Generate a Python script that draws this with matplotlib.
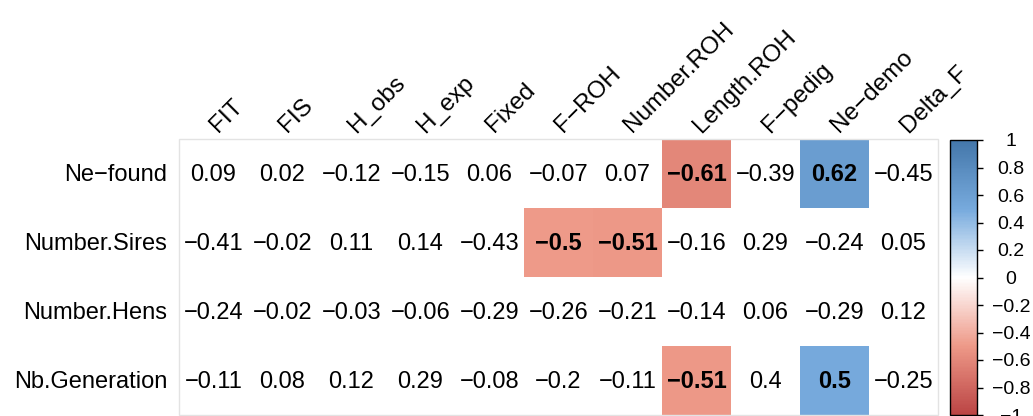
import matplotlib
matplotlib.use("Agg")
import matplotlib.pyplot as plt
from matplotlib.colors import LinearSegmentedColormap, Normalize
from matplotlib.patches import Rectangle
import matplotlib.cm as cm

plt.rcParams['font.family'] = ['Liberation Sans', 'DejaVu Sans']

row_labels = ["Ne\u2212found", "Number.Sires", "Number.Hens", "Nb.Generation"]
col_labels = ["FIT", "FIS", "H_obs", "H_exp", "Fixed", "F\u2212ROH", "Number.ROH",
              "Length.ROH", "F\u2212pedig", "Ne\u2212demo", "Delta_F"]

ne_found      = [0.09, 0.02, -0.12, -0.15, 0.06, -0.07, 0.07, -0.61, -0.39, 0.62, -0.45]
number_sires  = [-0.41, -0.02, 0.11, 0.14, -0.43, -0.5, -0.51, -0.16, 0.29, -0.24, 0.05]
number_hens   = [-0.24, -0.02, -0.03, -0.06, -0.29, -0.26, -0.21, -0.14, 0.06, -0.29, 0.12]
nb_generation = [-0.11, 0.08, 0.12, 0.29, -0.08, -0.2, -0.11, -0.51, 0.4, 0.5, -0.25]
matrix = [ne_found, number_sires, number_hens, nb_generation]

sig_threshold = 0.5
palette = ["#BB4444", "#EE9988", "#FFFFFF", "#77AADD", "#4477AA"]
cbar_ticks = [1, 0.8, 0.6, 0.4, 0.2, 0, -0.2, -0.4, -0.6, -0.8, -1]

W, H = 1033, 416
fig = plt.figure(figsize=(W / 100, H / 100), dpi=100)
cmap = LinearSegmentedColormap.from_list("corr", palette, N=200)
norm = Normalize(-1, 1)

# main grid axes (pixel geometry)
gx0, gy0, cell = 179, 139, 69
nr, nc = len(row_labels), len(col_labels)
ax = fig.add_axes([gx0 / W, 1 - (gy0 + nr * cell) / H, nc * cell / W, nr * cell / H])
ax.set_xlim(0, nc)
ax.set_ylim(nr, 0)
ax.axis("off")

def fmt(v):
    s = "{:g}".format(round(v, 2))
    return s.replace("-", "\u2212")

for i, row in enumerate(matrix):
    for j, v in enumerate(row):
        sig = abs(v) >= sig_threshold
        if sig:
            ax.add_patch(Rectangle((j, i), 1, 1, facecolor=cmap(norm(v)), edgecolor="none"))
        ax.text(j + 0.5, i + 0.52, fmt(v), ha="center", va="center", fontsize=17,
                fontweight="bold" if sig else "normal", color="black")

ax.add_patch(Rectangle((0, 0), nc, nr, facecolor="none", edgecolor="#E3E3E3", lw=1, clip_on=False))

# row labels
for i, lab in enumerate(row_labels):
    ax.text(-0.17, i + 0.52, lab, ha="right", va="center", fontsize=17)

# column labels
for j, lab in enumerate(col_labels):
    ax.text(j + 0.57, -0.08, lab, ha="left", va="baseline", rotation=45,
            rotation_mode="anchor", fontsize=17.5)

# colorbar
cy_top, cy_bot = 140, 415
cax = fig.add_axes([950 / W, 1 - cy_bot / H, 27 / W, (cy_bot - cy_top) / H])
sm = cm.ScalarMappable(norm=norm, cmap=cmap)
cb = fig.colorbar(sm, cax=cax, ticks=cbar_ticks)
cb.outline.set_linewidth(1)
cb.outline.set_edgecolor("black")
cax.tick_params(axis="y", length=4.5, width=1, pad=20, labelsize=14, colors="black")
cax.set_yticklabels([fmt(t) for t in cbar_ticks])
for t in cax.get_yticklabels():
    t.set_ha("center")

fig.savefig("out.png", dpi=100)
